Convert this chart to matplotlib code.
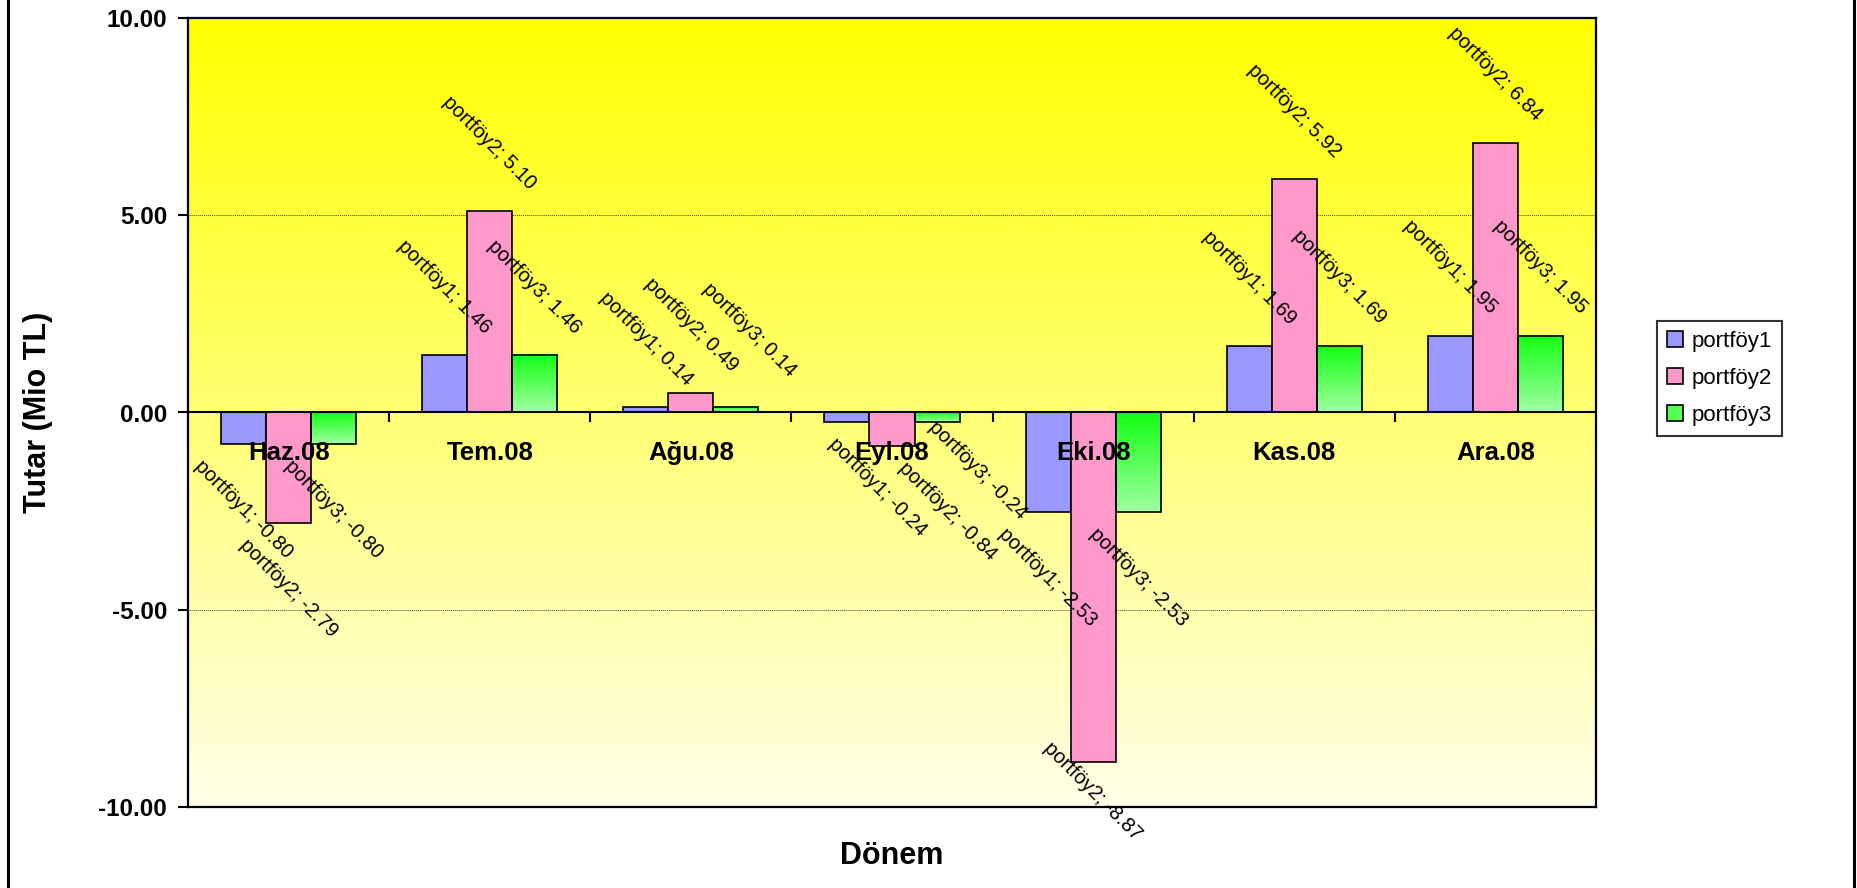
import numpy as np
import matplotlib
matplotlib.use("Agg")
import matplotlib.pyplot as plt
from matplotlib.colors import LinearSegmentedColormap
from matplotlib.patches import Patch
from matplotlib.lines import Line2D

plt.rcParams['font.family'] = ['Liberation Sans', 'DejaVu Sans']

# ---- data ----
months = ["Haz.08", "Tem.08", "Ağu.08", "Eyl.08", "Eki.08", "Kas.08", "Ara.08"]
series_names = ["portföy1", "portföy2", "portföy3"]
portfoy1 = [-0.80, 1.46, 0.14, -0.24, -2.53, 1.69, 1.95]
portfoy2 = [-2.79, 5.10, 0.49, -0.84, -8.87, 5.92, 6.84]
portfoy3 = [-0.80, 1.46, 0.14, -0.24, -2.53, 1.69, 1.95]
y_ticks = [-10, -5, 0, 5, 10]

series = [portfoy1, portfoy2, portfoy3]

# hand-placed data labels: (series index, month index) -> (dx, dy) in points
label_nudges = {(2, 2): (10, 6), (0, 3): (22, 0), (1, 3): (40, 0), (2, 3): (29, 12)}

W, H = 1858, 888
fig = plt.figure(figsize=(W / 100, H / 100), dpi=100)
ax = fig.add_axes([188 / W, 1 - 807 / H, (1596 - 188) / W, (807 - 18) / H])

# background gradient of the plot area
bg_cmap = LinearSegmentedColormap.from_list("bg", ["#FFFF00", "#FFFFE8"])
ax.imshow(np.linspace(0, 1, 256).reshape(-1, 1), cmap=bg_cmap, aspect="auto",
          extent=[0, 1, 0, 1], transform=ax.transAxes, zorder=0, origin="upper")

x = np.arange(len(months))
bw = 0.224
offsets = [-bw, 0, bw]
face = ["#9999FF", "#FF99CC", None]
green_cmap = LinearSegmentedColormap.from_list("gr", ["#14FF14", "#A0FFA0"])

labels = []
for k, (vals, name) in enumerate(zip(series, series_names)):
    xs = x + offsets[k]
    if face[k] is not None:
        ax.bar(xs, vals, bw, color=face[k], edgecolor="black", linewidth=1.2, zorder=3)
    else:
        ax.bar(xs, vals, bw, facecolor="none", edgecolor="black", linewidth=1.2, zorder=3)
        for xc, v in zip(xs, vals):
            ax.imshow(np.linspace(0, 1, 128).reshape(-1, 1), cmap=green_cmap,
                      aspect="auto", origin="upper",
                      extent=[xc - bw / 2, xc + bw / 2, min(0, v), max(0, v)],
                      zorder=2)
    for i, (xc, v) in enumerate(zip(xs, vals)):
        dx, dy = label_nudges.get((k, i), (0, 0))
        base = 13 if v >= 0 else -9
        ann = ax.annotate(f"{name}; {v:.2f}", xy=(xc, v),
                          xytext=(dx, base + dy), textcoords="offset points",
                          rotation=-45, ha="center", va="bottom" if v >= 0 else "top",
                          fontsize=14.5, zorder=5, annotation_clip=False)
        labels.append(ann)

ax.set_xlim(-0.5, len(months) - 0.5)
ax.set_ylim(-10, 10)

# zero line with category ticks and labels
ax.axhline(0, color="black", linewidth=1.5, zorder=4)
ax.vlines(np.arange(len(months) - 1) + 0.5, -0.24, 0, color="black", linewidth=1.5, zorder=4)
for i, m in enumerate(months):
    ax.annotate(m, xy=(i, 0), xytext=(0, -29), textcoords="offset points",
                ha="center", va="center", fontsize=18.5, fontweight="bold", zorder=4)

# grid lines
for g in (-5, 5):
    ax.axhline(g, color="#444444", linewidth=0.7, linestyle=(0, (1, 1)), zorder=1)

ax.set_yticks(y_ticks)
ax.set_yticklabels([f"{t:.2f}" for t in y_ticks], fontsize=17.5, fontweight="bold")
ax.tick_params(axis="y", length=7, width=1.5, pad=8)
ax.set_xticks([])
for s in ax.spines.values():
    s.set_linewidth(1.6)
    s.set_zorder(6)

fig.text(38 / W, 1 - 412 / H, "Tutar (Mio TL)", rotation=90, ha="center", va="center",
         fontsize=22, fontweight="bold")
fig.text(892 / W, 1 - 856 / H, "Dönem", ha="center", va="center",
         fontsize=22, fontweight="bold")

handles = [Patch(facecolor="#9999FF", edgecolor="black", linewidth=1.2),
           Patch(facecolor="#FF99CC", edgecolor="black", linewidth=1.2),
           Patch(facecolor="#55FF55", edgecolor="black", linewidth=1.2)]
leg = fig.legend(handles, series_names, loc="center",
                 bbox_to_anchor=((1659 + 1780) / 2 / W, 1 - 378 / H),
                 fontsize=16, frameon=True, fancybox=False, handlelength=0.7,
                 handleheight=0.7, handletextpad=0.4, labelspacing=0.72,
                 borderpad=0.45, borderaxespad=0)
leg.get_frame().set_edgecolor("black")
leg.get_frame().set_linewidth(1.5)

# outer border lines
for xb in (8 / W, 1854 / W):
    fig.add_artist(Line2D([xb, xb], [0, 1], transform=fig.transFigure,
                          color="black", linewidth=2.2))

# keep data labels inside the chart area: push up any label that runs off the bottom
fig.canvas.draw()
renderer = fig.canvas.get_renderer()
min_bottom_px = 44
for ann in labels:
    bb = ann.get_window_extent(renderer)
    if bb.y0 < min_bottom_px:
        ox, oy = ann.xyann
        ann.xyann = (ox, oy + (min_bottom_px - bb.y0) * 72 / fig.dpi)

fig.savefig("out.png", dpi=100)
